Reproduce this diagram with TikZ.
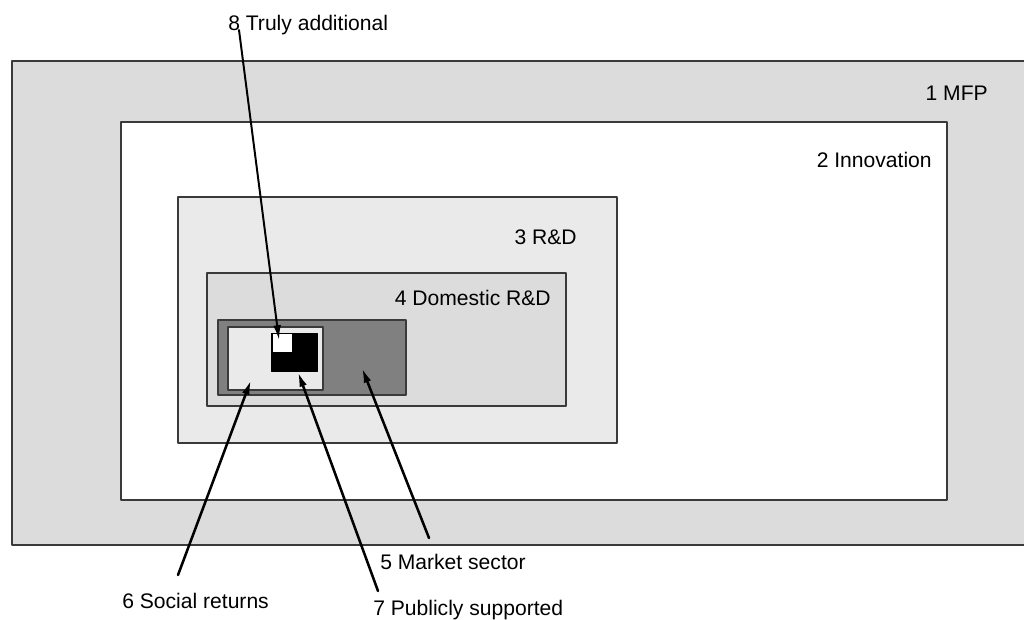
\documentclass[tikz,border=0pt]{standalone}
\usepackage{fontspec}
\setmainfont{Liberation Sans}
\usetikzlibrary{arrows.meta}
\definecolor{boxgray}{HTML}{DCDCDC}
\definecolor{lightgray}{HTML}{EAEAEA}
\definecolor{midgray}{HTML}{808080}
\definecolor{edgegray}{HTML}{3A3A3A}

\begin{document}
\begin{tikzpicture}[line cap=round,line join=round,x=0.025cm,y=-0.025cm,
    box/.style={draw=edgegray,line width=1.1pt},
    lab/.style={font=\fontsize{15}{18}\selectfont,inner sep=0pt},
    pointer/.style={line width=1.8pt,-{Latex[length=10.5pt,width=5.5pt]}}]
                \useasboundingbox (0,0) rectangle (1024,619);
                % nested boxes
                \begin{scope}
                \clip (0,0) rectangle (1024,619);
                \draw [box,fill=boxgray] (12,61) rectangle (1040,545);
                \end{scope}
                \draw [box,fill=white] (121,122) rectangle (947,500);
                \draw [box,fill=lightgray] (178,197) rectangle (617,443);
                \draw [box,fill=boxgray] (207,273) rectangle (566,406);
                \draw [box,fill=midgray] (218,320) rectangle (406,395);
                \draw [box,fill=lightgray] (228,327) rectangle (323,390);
                \draw [fill=black] (271,333) rectangle (317,371);
                \draw [fill=white] (272,333) rectangle (292,352);
                % box labels
                \node[lab,anchor=east] (mfp) at (988,93) {1 MFP};
                \node[lab,anchor=east] (inno) at (932,160) {2 Innovation};
                \node[lab,anchor=east] (rd) at (577,237) {3 R\&D};
                \node[lab,anchor=east] (drd) at (551,298) {4 Domestic R\&D};
                % pointer labels
                \node[lab,anchor=west] (market) at (380,562) {5 Market sector};
                \node[lab,anchor=west] (social) at (122,601) {6 Social returns};
                \node[lab,anchor=west] (public) at (373,610) {7 Publicly supported};
                \node[lab,anchor=west] (truly) at (228,25) {8 Truly additional};
                % pointer ends
                \coordinate (m0) at (429,538);
                \coordinate (m1) at (362,368);
                \coordinate (s0) at (178,575);
                \coordinate (s1) at (251,380);
                \coordinate (p0) at (378,591);
                \coordinate (p1) at (298,372);
                \coordinate (t0) at (239,30);
                \coordinate (t1) at (279,340);
                \draw [pointer] (m0) -- (m1);
                \draw [pointer] (s0) -- (s1);
                \draw [pointer] (p0) -- (p1);
                \draw [pointer,line width=1.4pt] (t0) -- (t1);
\end{tikzpicture}
\end{document}
